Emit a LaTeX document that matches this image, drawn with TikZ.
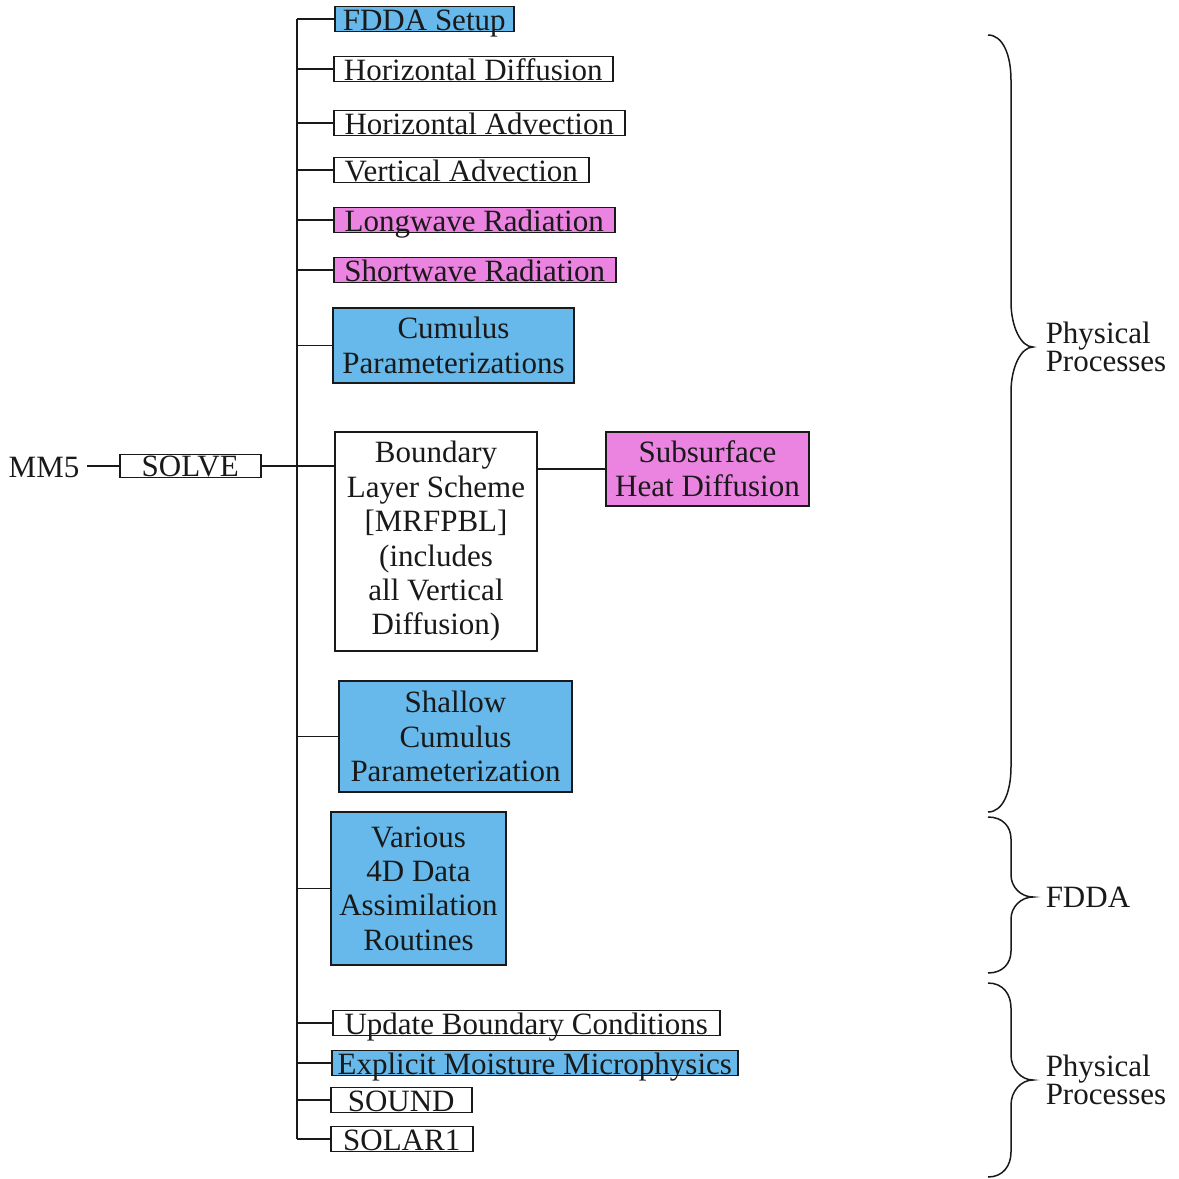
\documentclass[tikz,border=0pt]{standalone}
\usepackage{fontspec}
\setmainfont{Liberation Serif}
\definecolor{ink}{RGB}{25,25,25}
\definecolor{bluebox}{RGB}{102,185,234}
\definecolor{pinkbox}{RGB}{234,132,224}

% curly brace: top y, tip y, bottom y, curl length
\newcommand\curlybrace[4]{%
  \draw[bracestroke] (988,#1) .. controls (1003,#1) and (1011,{#1+0.45*#4}) .. (1011,{#1+#4})
    -- (1011,{#2-#4}) .. controls (1011,{#2-0.45*#4}) and (1021,#2) .. (1033,#2)
    .. controls (1021,#2) and (1011,{#2+0.45*#4}) .. (1011,{#2+#4})
    -- (1011,{#3-#4}) .. controls (1011,{#3-0.45*#4}) and (1003,#3) .. (988,#3);}

\begin{document}
\begin{tikzpicture}[x=1pt,y=-1pt,
  line width=1.5pt, draw=ink,
  every node/.style={font=\fontsize{31}{34.4}\selectfont, text=ink},
  box/.style={draw=ink, line width=1.5pt, inner sep=0pt, align=center},
  rowbox/.style={draw=ink, line width=1.5pt, inner sep=0pt, anchor=south west,
                 text height=24pt, text depth=1pt},
  wire/.style={draw=ink, line width=1.6pt},
  bracestroke/.style={draw=ink, line width=1.5pt},
  grouplabel/.style={anchor=west, align=left, inner sep=0pt,
                     font=\fontsize{31}{28}\selectfont}]

\useasboundingbox (0,0) rectangle (1179,1179);

% single-line routine boxes
\node[rowbox, minimum width=179pt, fill=bluebox] (fdda)  at (334,32)  {FDDA Setup};
\node[rowbox, minimum width=279pt] (hdiff) at (333,82)  {Horizontal Diffusion};
\node[rowbox, minimum width=291pt] (hadv)  at (333,136) {Horizontal Advection};
\node[rowbox, minimum width=255pt] (vadv)  at (333,183) {Vertical Advection};
\node[rowbox, minimum width=281pt, fill=pinkbox] (lw) at (333,233) {Longwave Radiation};
\node[rowbox, minimum width=282pt, fill=pinkbox] (sw) at (333,283) {Shortwave Radiation};

% multi-line routine boxes
\node[box, minimum width=241pt, minimum height=75pt, fill=bluebox] (cumulus) at (453.5,345.5) {Cumulus\\Parameterizations};
\node[box, minimum width=202pt, minimum height=219pt] (blayer) at (436,541.5)
  {Boundary\\Layer Scheme\\{[MRFPBL]}\\(includes\\all Vertical\\Diffusion)};
\node[box, minimum width=203pt, minimum height=74pt, fill=pinkbox] (sub) at (707.5,469) {Subsurface\\Heat Diffusion};
\node[box, minimum width=233pt, minimum height=111pt, fill=bluebox] (shallow) at (455.5,736.5) {Shallow\\Cumulus\\Parameterization};
\node[box, minimum width=175pt, minimum height=153pt, fill=bluebox] (fddar) at (418.5,888.5) {Various\\4D Data\\Assimilation\\Routines};

% lower single-line boxes
\node[rowbox, minimum width=387pt] (ubc) at (332,1036) {Update Boundary Conditions};
\node[rowbox, minimum width=406pt, fill=bluebox] (emm) at (331,1076) {Explicit Moisture Microphysics};
\node[rowbox, minimum width=141pt] (sound) at (330,1113) {SOUND};
\node[rowbox, minimum width=142pt] (solar) at (330,1152) {SOLAR1};

% driver
\node[anchor=west, inner sep=0pt] (mm5) at (8,467) {MM5};
\node[rowbox, minimum width=141pt, text height=22pt] (solve) at (119,478) {SOLVE};

% trunk and branches
\coordinate (tx) at (297,0);
\draw[wire] (tx |- fdda.west) -- (tx |- solar.west);
\foreach \b in {fdda,hdiff,hadv,vadv,lw,sw,cumulus,shallow,fddar,ubc,emm,sound,solar}
  \draw[wire] (tx |- \b.west) -- (\b.west);
\draw[wire] ([xshift=7pt]mm5.east |- solve.west) -- (solve.west);
\draw[wire] (solve.east) -- (solve.east -| blayer.west);
\draw[wire] (blayer.east |- sub.west) -- (sub.west);

% grouping braces
\curlybrace{35}{347}{812}{45}
\curlybrace{817}{897}{973}{22}
\curlybrace{983}{1080}{1177}{25}
\coordinate (tipA) at (1033,347);
\coordinate (tipB) at (1033,897);
\coordinate (tipC) at (1033,1080);
\node[grouplabel] (physA) at ([xshift=12pt]tipA) {Physical\\Processes};
\node[grouplabel] (fddalab) at ([xshift=12pt]tipB) {FDDA};
\node[grouplabel] (physC) at ([xshift=12pt]tipC) {Physical\\Processes};
\end{tikzpicture}
\end{document}
